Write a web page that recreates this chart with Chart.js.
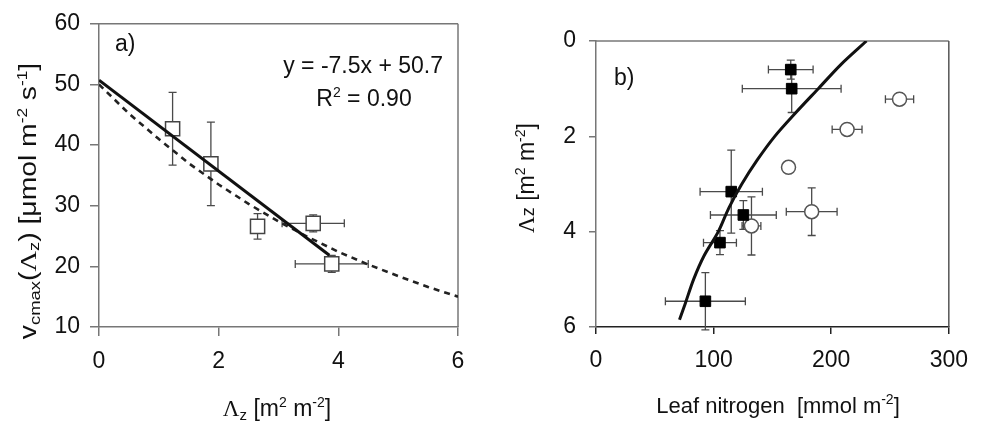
<!DOCTYPE html>
<html>
<head>
<meta charset="utf-8">
<script src="https://cdn.jsdelivr.net/npm/chart.js@4.4.0/dist/chart.umd.min.js"></script>
<style>
  html, body { margin: 0; padding: 0; background: #ffffff; }
  #wrap { position: relative; width: 981px; height: 427px; overflow: hidden; background: #fff; }
  canvas { position: absolute; top: 0; }
  #chartA { left: 0; }
  #chartB { left: 490px; }
</style>
</head>
<body>
<div id="wrap">
  <canvas id="chartA" width="490" height="427"></canvas>
  <canvas id="chartB" width="491" height="427"></canvas>
</div>
<script>
// ---------- Panel a: Vcmax against cumulative leaf area ----------
const laiA       = [1.23, 1.87, 2.65, 3.58, 3.89];
const vcmaxA     = [42.7, 36.9, 26.6, 27.1, 20.4];
const vcmaxErrA  = [6.0, 6.9, 2.1, 1.4, 1.4];
const laiErrA    = [0, 0, 0, 0.52, 0.61];

// linear regression, as printed in the panel
const fitSlope = -7.5;
const fitIntercept = 50.7;
const fitLaiRange = [0, 3.85];

// modelled profile (dashed)
const modelLai   = [0, 0.5, 1, 1.5, 2, 2.5, 3, 3.5, 4, 4.5, 5, 5.5, 6];
const modelVcmax = [50, 45.2, 41, 37, 33.5, 30.3, 27.4, 24.8, 22.4, 20.3, 18.4, 16.6, 15.0];

const xTicksA = [0, 2, 4, 6];
const yTicksA = [10, 20, 30, 40, 50, 60];

// ---------- Panel b: leaf nitrogen against cumulative leaf area ----------
const nitrogenFilled    = [165.6, 166.4, 115, 125.3, 105.4, 93];
const laiFilled         = [0.6, 1.0, 3.16, 3.65, 4.23, 5.46];
const nitrogenErrFilled = [19, 42, 26.5, 28, 14, 34];
const laiErrFilled      = [0.2, 0.5, 0.87, 0.3, 0.25, 0.6];

const nitrogenOpen    = [258.1, 213.5, 163.7, 183.4, 132.2];
const laiOpen         = [1.22, 1.855, 2.65, 3.58, 3.88];
const nitrogenErrOpen = [12, 12.7, 0, 21.6, 8];
const laiErrOpen      = [0, 0, 0, 0.5, 0.61];

// nitrogen profile curve
const curveLai      = [0, 0.5, 1, 1.5, 2, 2.5, 3, 3.5, 4, 4.5, 5, 5.5, 5.85];
const curveNitrogen = [230, 208, 189, 170, 152, 137, 124, 113, 104, 92, 83, 76, 71];

const xTicksB = [0, 100, 200, 300];
const yTicksB = [0, 2, 4, 6];

// ---------- helpers ----------
const SANS  = '"Liberation Sans", Arial, Helvetica, sans-serif';
const SERIF = '"Liberation Serif", "Times New Roman", Times, serif';
Chart.defaults.font.family = SANS;

const zip = (xs, ys) => xs.map((v, i) => ({ x: v, y: ys[i] }));

function segFont(s) { return `${s.size}px ${s.serif ? SERIF : SANS}`; }

function richWidth(ctx, segs) {
  let w = 0;
  for (const s of segs) { ctx.font = segFont(s); w += ctx.measureText(s.t).width; }
  return w;
}

// draws a run of text pieces with their own size and baseline shift
function drawRich(ctx, segs, x, y, align, rotate, stretch) {
  ctx.save();
  ctx.translate(x, y);
  if (rotate) ctx.rotate(-Math.PI / 2);
  if (stretch) ctx.scale(stretch, 1);
  const w = richWidth(ctx, segs);
  let cx = align === 'left' ? 0 : align === 'right' ? -w : -w / 2;
  ctx.textAlign = 'left';
  ctx.textBaseline = 'alphabetic';
  ctx.fillStyle = '#111';
  for (const s of segs) {
    ctx.font = segFont(s);
    ctx.fillText(s.t, cx, s.dy || 0);
    cx += ctx.measureText(s.t).width;
  }
  ctx.restore();
}

const F = 23, SUB = 15, SUP = 14;

const errorBars = {
  id: 'errorBars',
  beforeDatasetsDraw(chart) {
    const { ctx } = chart;
    const xs = chart.scales.x, ys = chart.scales.y;
    ctx.save();
    ctx.strokeStyle = '#4a4a4a';
    ctx.lineWidth = 1.3;
    const cap = 4;
    chart.data.datasets.forEach(ds => {
      if (!ds.errX && !ds.errY) return;
      ds.data.forEach((p, i) => {
        const px = xs.getPixelForValue(p.x), py = ys.getPixelForValue(p.y);
        const ex = ds.errX ? ds.errX[i] : 0, ey = ds.errY ? ds.errY[i] : 0;
        ctx.beginPath();
        if (ex) {
          const x1 = xs.getPixelForValue(p.x - ex), x2 = xs.getPixelForValue(p.x + ex);
          ctx.moveTo(x1, py); ctx.lineTo(x2, py);
          ctx.moveTo(x1, py - cap); ctx.lineTo(x1, py + cap);
          ctx.moveTo(x2, py - cap); ctx.lineTo(x2, py + cap);
        }
        if (ey) {
          const y1 = ys.getPixelForValue(p.y - ey), y2 = ys.getPixelForValue(p.y + ey);
          ctx.moveTo(px, y1); ctx.lineTo(px, y2);
          ctx.moveTo(px - cap, y1); ctx.lineTo(px + cap, y1);
          ctx.moveTo(px - cap, y2); ctx.lineTo(px + cap, y2);
        }
        ctx.stroke();
      });
    });
    ctx.restore();
  }
};

// top and right edges of the plot frame
const frame = {
  id: 'frame',
  beforeDatasetsDraw(chart, args, opts) {
    const { ctx, chartArea: a } = chart;
    ctx.save();
    ctx.lineWidth = 1.5;
    ctx.strokeStyle = opts.top || '#777';
    ctx.beginPath(); ctx.moveTo(a.left, a.top); ctx.lineTo(a.right, a.top); ctx.stroke();
    ctx.strokeStyle = opts.right || '#777';
    ctx.beginPath(); ctx.moveTo(a.right, a.top); ctx.lineTo(a.right, a.bottom); ctx.stroke();
    ctx.restore();
  }
};

const labels = {
  id: 'labels',
  afterDraw(chart, args, opts) {
    const { ctx } = chart;
    (opts.items || []).forEach(it => drawRich(ctx, it.segs, it.x, it.y, it.align || 'center', it.rotate, it.stretch));
  }
};

function axis(min, max, tickList, opts) {
  return Object.assign({
    type: 'linear',
    min, max,
    afterBuildTicks(s) { s.ticks = tickList.map(v => ({ value: v })); },
    ticks: { color: '#111', font: { size: F }, padding: opts.pad },
    grid: { drawOnChartArea: false, drawTicks: true, tickLength: opts.tick, color: opts.color, lineWidth: 1.5 },
    border: { display: true, color: opts.color, width: 1.5 }
  }, opts.extra || {});
}

// ---------- chart a ----------
const fitLine = fitLaiRange.map(v => ({ x: v, y: fitIntercept + fitSlope * v }));

new Chart(document.getElementById('chartA'), {
  type: 'scatter',
  data: {
    datasets: [
      { data: fitLine, showLine: true, borderColor: '#111', borderWidth: 3, pointRadius: 0, order: 0 },
      { data: zip(modelLai, modelVcmax), showLine: true, borderColor: '#222', borderWidth: 2.6,
        borderDash: [6, 5], pointRadius: 0, order: 0 },
      { data: zip(laiA, vcmaxA), errX: laiErrA, errY: vcmaxErrA, pointStyle: 'rect', pointRadius: 10,
        backgroundColor: '#fff', borderColor: '#444', borderWidth: 1.5, order: 1 }
    ]
  },
  options: {
    responsive: false, animation: false, devicePixelRatio: 1,
    layout: { padding: { left: 0, right: 32, top: 14, bottom: 0 } },
    plugins: {
      legend: { display: false }, tooltip: { enabled: false },
      frame: { top: '#777', right: '#777' },
      labels: { items: [
        { segs: [{ t: 'a)', size: F }], x: 115, y: 51, align: 'left' },
        { segs: [{ t: 'y = -7.5x + 50.7', size: F }], x: 443, y: 73, align: 'right' },
        { segs: [{ t: 'R', size: F }, { t: '2', size: SUP, dy: -9 }, { t: ' = 0.90', size: F }], x: 364, y: 106 },
        { segs: [{ t: 'Λ', size: F, serif: true }, { t: 'z', size: SUB, dy: 4 }, { t: ' [m', size: F },
                 { t: '2', size: SUP, dy: -9 }, { t: ' m', size: F }, { t: '-2', size: SUP, dy: -9 }, { t: ']', size: F }],
          x: 277, y: 416 },
        { segs: [{ t: 'v', size: F }, { t: 'cmax', size: SUB, dy: 4 }, { t: '(', size: F }, { t: 'Λ', size: F, serif: true },
                 { t: 'z', size: SUB, dy: 3 }, { t: ') [μmol m', size: F }, { t: '-2', size: SUP, dy: -9 },
                 { t: ' s', size: F }, { t: '-1', size: SUP, dy: -9 }, { t: ']', size: F }],
          x: 36, y: 201, rotate: true, stretch: 1.23 }
      ] }
    },
    scales: {
      x: axis(0, 6, xTicksA, { pad: 12, tick: 9, color: '#777', extra: { afterFit(s) { s.height = 100; } } }),
      y: axis(10, 60, yTicksA, { pad: 10, tick: 9, color: '#777', extra: { afterFit(s) { s.width = 99; } } })
    }
  },
  plugins: [errorBars, frame, labels]
});

// ---------- chart b ----------
new Chart(document.getElementById('chartB'), {
  type: 'scatter',
  data: {
    datasets: [
      { data: zip(curveNitrogen, curveLai), showLine: true, borderColor: '#111', borderWidth: 3,
        pointRadius: 0, tension: 0.3, order: 0 },
      { data: zip(nitrogenFilled, laiFilled), errX: nitrogenErrFilled, errY: laiErrFilled, pointStyle: 'rect',
        pointRadius: 7.5, backgroundColor: '#000', borderColor: '#000', borderWidth: 1, order: 1 },
      { data: zip(nitrogenOpen, laiOpen), errX: nitrogenErrOpen, errY: laiErrOpen, pointStyle: 'circle',
        pointRadius: 7, backgroundColor: '#fff', borderColor: '#555', borderWidth: 1.5, order: 1 }
    ]
  },
  options: {
    responsive: false, animation: false, devicePixelRatio: 1,
    layout: { padding: { left: 0, right: 20, top: 41, bottom: 0 } },
    plugins: {
      legend: { display: false }, tooltip: { enabled: false },
      frame: { top: '#777', right: '#555' },
      labels: { items: [
        { segs: [{ t: 'b)', size: F }], x: 124, y: 85, align: 'left' },
        { segs: [{ t: 'Leaf nitrogen  [mmol m', size: 22 }, { t: '-2', size: SUP, dy: -9 }, { t: ']', size: 22 }],
          x: 288, y: 413 },
        { segs: [{ t: 'Λ', size: F, serif: true }, { t: 'z', size: 18 }, { t: ' [m', size: F },
                 { t: '2', size: SUP, dy: -9 }, { t: ' m', size: F }, { t: '-2', size: SUP, dy: -9 }, { t: ']', size: F }],
          x: 44, y: 178, rotate: true }
      ] }
    },
    scales: {
      x: axis(0, 300, xTicksB, { pad: 13, tick: 7, color: '#222', extra: { afterFit(s) { s.height = 100; } } }),
      y: axis(0, 6, yTicksB, { pad: 13, tick: 7, color: '#777', extra: { reverse: true, afterFit(s) { s.width = 106; } } })
    }
  },
  plugins: [errorBars, frame, labels]
});
</script>
</body>
</html>
